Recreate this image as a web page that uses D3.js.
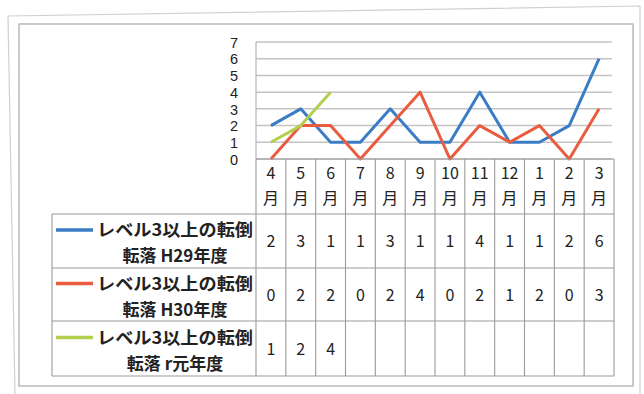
<!DOCTYPE html>
<html>
<head>
<meta charset="utf-8">
<script src="https://cdn.jsdelivr.net/npm/d3@7"></script>
<style>
  html, body { margin: 0; padding: 0; background: #fff; }
  svg { display: block; }
  text { font-family: "Noto Sans CJK JP", "Noto Sans", sans-serif; fill: #222; }
</style>
</head>
<body>
<svg id="chart" width="644" height="394"></svg>
<script>
// ---- data ----
const months = ["4","5","6","7","8","9","10","11","12","1","2","3"];
const monthSuffix = "月";
const seriesNames = [
  ["レベル3以上の転倒", "転落 H29年度"],
  ["レベル3以上の転倒", "転落 H30年度"],
  ["レベル3以上の転倒", "転落 r元年度"]
];
const h29 = [2, 3, 1, 1, 3, 1, 1, 4, 1, 1, 2, 6];
const h30 = [0, 2, 2, 0, 2, 4, 0, 2, 1, 2, 0, 3];
const r1  = [1, 2, 4, null, null, null, null, null, null, null, null, null];
const seriesColors = ["#3b7dc4", "#e95c40", "#b2d04e"];
const yTicks = [0, 1, 2, 3, 4, 5, 6, 7];

const allSeries = [h29, h30, r1];

// ---- layout ----
const svg = d3.select("#chart");
const plotL = 256, plotR = 614, plotT = 42, plotB = 159;
const tableL = 52;
const rowEdges = [159, 214, 268, 321, 376];

// frames
svg.append("path")
  .attr("d", "M8,16 L640,6 L640,394 M8,16 L15,394")
  .attr("fill", "none").attr("stroke", "#d0d0d0").attr("stroke-width", 1.2);
svg.append("rect")
  .attr("x", 19).attr("y", 24).attr("width", 614).attr("height", 362)
  .attr("fill", "none").attr("stroke", "#b8b8b8").attr("stroke-width", 1.5);

const x = d3.scaleBand().domain(months).range([plotL, plotR]).padding(0);
const y = d3.scaleLinear().domain([0, 7]).range([plotB, plotT]);
const cx = m => x(m) + x.bandwidth() / 2;

// gridlines
svg.append("g").selectAll("line").data(yTicks).join("line")
  .attr("x1", plotL).attr("x2", plotR - 2)
  .attr("y1", d => y(d)).attr("y2", d => y(d))
  .attr("stroke", "#c4c4c4").attr("stroke-width", 1.5);
svg.append("line")
  .attr("x1", plotL).attr("x2", plotL).attr("y1", plotT).attr("y2", plotB)
  .attr("stroke", "#b4b4b4").attr("stroke-width", 1.2);

// y axis
const yAxis = svg.append("g")
  .attr("transform", `translate(${plotL},0)`)
  .call(d3.axisLeft(y).tickValues(yTicks).tickSize(0).tickPadding(18).tickFormat(d3.format("d")));
yAxis.select(".domain").remove();
yAxis.selectAll("text")
  .style("font-family", "'Liberation Sans', Arial, sans-serif")
  .style("font-size", "14.5px").attr("fill", "#222").attr("dy", "0.36em");

// lines
const line = d3.line()
  .defined(d => d.v !== null)
  .x(d => cx(d.m)).y(d => y(d.v));
allSeries.forEach((s, i) => {
  svg.append("path")
    .datum(months.map((m, j) => ({ m, v: s[j] })))
    .attr("d", line)
    .attr("fill", "none")
    .attr("stroke", seriesColors[i])
    .attr("stroke-width", 3)
    .attr("stroke-linejoin", "round");
});

// table grid
const grid = svg.append("g").attr("stroke", "#9a9a9a").attr("stroke-width", 1.1);
rowEdges.forEach((ry, k) => {
  grid.append("line")
    .attr("x1", k === 0 ? plotL : tableL).attr("x2", plotR)
    .attr("y1", ry).attr("y2", ry);
});
grid.append("line").attr("x1", tableL).attr("x2", tableL).attr("y1", rowEdges[1]).attr("y2", rowEdges[4]);
months.forEach(m => {
  grid.append("line").attr("x1", x(m)).attr("x2", x(m)).attr("y1", rowEdges[0]).attr("y2", rowEdges[4]);
});
grid.append("line").attr("x1", plotR).attr("x2", plotR).attr("y1", rowEdges[0]).attr("y2", rowEdges[4]);

// header month labels
const hdr = svg.append("g");
months.forEach(m => {
  hdr.append("text").attr("x", cx(m)).attr("y", 179)
    .attr("text-anchor", "middle").style("font-size", "16px").text(m);
  hdr.append("text").attr("x", cx(m)).attr("y", 204)
    .attr("text-anchor", "middle").style("font-size", "16px").text(monthSuffix);
});

// data rows
allSeries.forEach((s, i) => {
  const top = rowEdges[i + 1], bot = rowEdges[i + 2];
  const mid = (top + bot) / 2;
  const g = svg.append("g");
  g.append("line").attr("x1", 56).attr("x2", 93).attr("y1", mid - 11).attr("y2", mid - 11)
    .attr("stroke", seriesColors[i]).attr("stroke-width", 3.5);
  g.append("text").attr("x", 253).attr("y", mid - 5)
    .attr("text-anchor", "end")
    .attr("textLength", 156).attr("lengthAdjust", "spacingAndGlyphs")
    .style("font-size", "17px").style("font-weight", "bold").text(seriesNames[i][0]);
  g.append("text").attr("x", 175).attr("y", mid + 21)
    .attr("text-anchor", "middle")
    .style("font-size", "17px").style("font-weight", "bold").text(seriesNames[i][1]);
  months.forEach((m, j) => {
    if (s[j] === null) return;
    g.append("text").attr("x", cx(m)).attr("y", mid + 6)
      .attr("text-anchor", "middle").style("font-size", "16px").text(s[j]);
  });
});
</script>
</body>
</html>
